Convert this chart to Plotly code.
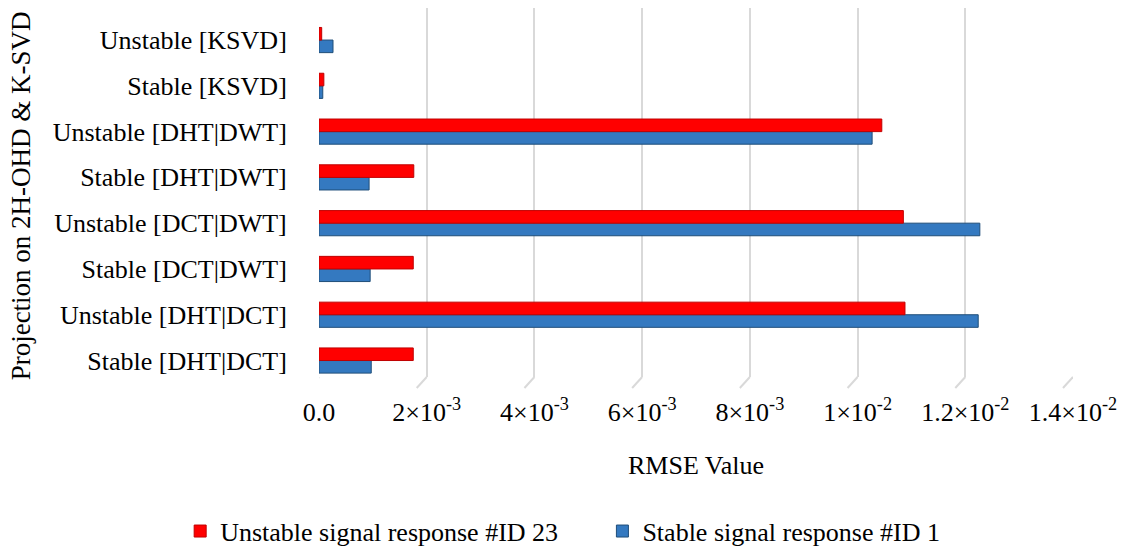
import plotly.graph_objects as go

# Projection methods (bottom to top on the category axis)
categories = [
    "Stable [DHT|DCT]",
    "Unstable [DHT|DCT]",
    "Stable [DCT|DWT]",
    "Unstable [DCT|DWT]",
    "Stable [DHT|DWT]",
    "Unstable [DHT|DWT]",
    "Stable [KSVD]",
    "Unstable [KSVD]",
]

# RMSE values per signal response
stable_id1 = [0.00097, 0.01224, 0.00095, 0.01227, 0.00093, 0.01027, 0.00007, 0.00026]
unstable_id23 = [0.00175, 0.01088, 0.00175, 0.01085, 0.00176, 0.01045, 0.00009, 0.00005]

# x-axis ticks
tick_vals = [0.0, 0.002, 0.004, 0.006, 0.008, 0.010, 0.012, 0.014]
tick_text = [
    "0.0",
    "2×10<sup>-3</sup>",
    "4×10<sup>-3</sup>",
    "6×10<sup>-3</sup>",
    "8×10<sup>-3</sup>",
    "1×10<sup>-2</sup>",
    "1.2×10<sup>-2</sup>",
    "1.4×10<sup>-2</sup>",
]

FONT = "Liberation Serif, Times New Roman, serif"
GRID = "#d9d9d9"

fig = go.Figure()
fig.add_trace(go.Bar(
    y=categories, x=stable_id1, orientation="h",
    name="Stable signal response #ID 1", legend="legend2",
    marker=dict(color="#3479c0", line=dict(color="#1f4e79", width=1)),
))
fig.add_trace(go.Bar(
    y=categories, x=unstable_id23, orientation="h",
    name="Unstable signal response #ID 23", legend="legend",
    marker=dict(color="#ff0000", line=dict(color="#c00000", width=1)),
))

# slanted floor strokes under each gridline
px_per_unit = (1073 - 319) / 0.014
for v in tick_vals:
    fig.add_shape(
        type="line", xref="x", yref="paper",
        x0=v, y0=0, x1=v - 10 / px_per_unit, y1=-11 / 369,
        line=dict(color=GRID, width=2), layer="below",
    )

legend_style = dict(
    orientation="h", xref="container", yref="container",
    y=0.029, xanchor="left", yanchor="middle",
    font=dict(family=FONT, size=26), bgcolor="rgba(0,0,0,0)",
)

fig.update_layout(
    width=1126, height=547,
    margin=dict(l=319, r=53, t=8, b=170),
    paper_bgcolor="white", plot_bgcolor="white",
    barmode="group", bargap=0.45, bargroupgap=0.0,
    font=dict(family=FONT, size=26, color="#000000"),
    showlegend=True,
    legend=dict(x=0.16, **legend_style),
    legend2=dict(x=0.535, **legend_style),
    xaxis=dict(
        range=[0, 0.014], tickvals=tick_vals, ticktext=tick_text,
        showgrid=True, gridcolor=GRID, gridwidth=2,
        zeroline=False, showline=False,
        ticks="outside", ticklen=12, tickcolor="rgba(0,0,0,0)",
        tickfont=dict(family=FONT, size=26),
    ),
    yaxis=dict(
        range=[-0.36, 7.70],
        showgrid=False, zeroline=False, showline=False,
        ticks="outside", ticklen=26, tickcolor="rgba(0,0,0,0)",
        tickfont=dict(family=FONT, size=26),
    ),
    annotations=[
        dict(text="RMSE Value", xref="paper", yref="paper",
             x=0.5, y=-0.24, xanchor="center", yanchor="middle",
             showarrow=False, font=dict(family=FONT, size=26)),
        dict(text="Projection on 2H-OHD & K-SVD", xref="paper", yref="paper",
             x=-0.395, y=0.49, xanchor="center", yanchor="middle",
             textangle=-90, showarrow=False, font=dict(family=FONT, size=27)),
    ],
)

fig.write_html("out.html")
